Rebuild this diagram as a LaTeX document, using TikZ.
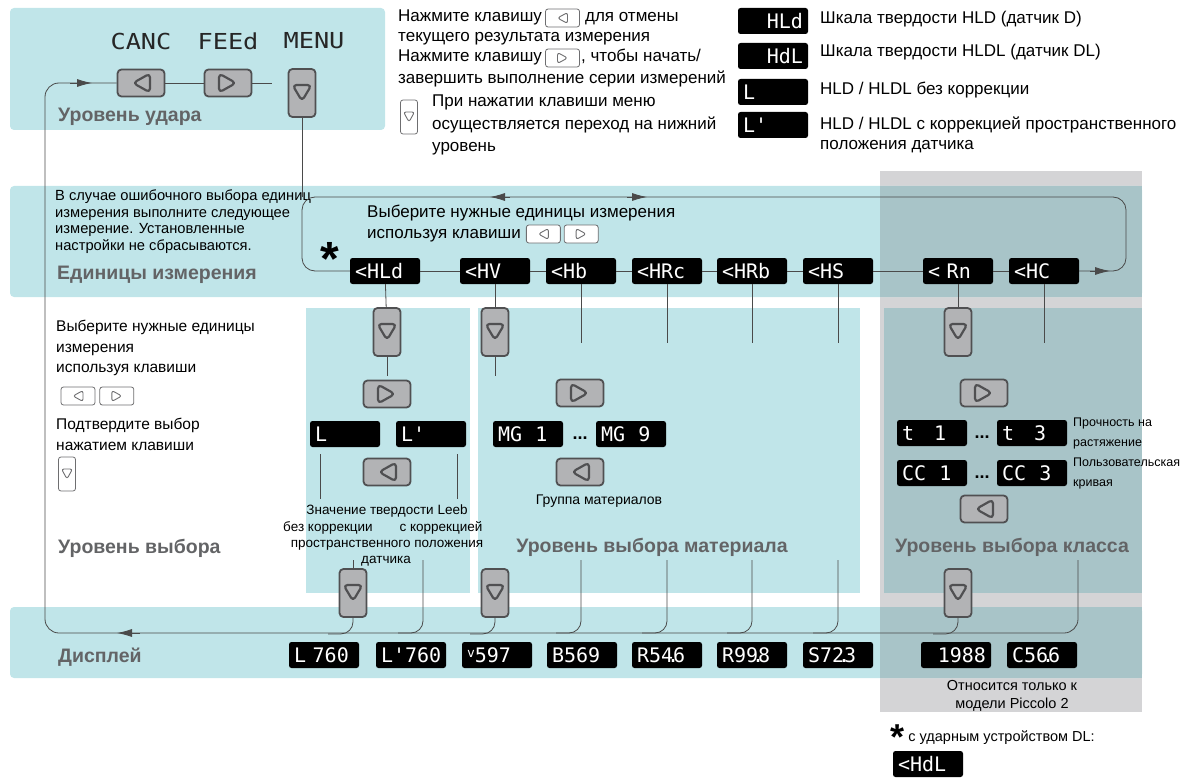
\documentclass[tikz,border=0pt]{standalone}
\usepackage{fontspec}
\setmainfont{Liberation Sans}
\newfontfamily\segfont{DejaVu Sans Mono}
\newfontfamily\segwide[FakeStretch=1.15]{DejaVu Sans Mono}
\usetikzlibrary{positioning,arrows.meta}

\definecolor{bandcyan}{HTML}{C0E5E9}
\definecolor{bandgray}{HTML}{D4D4D6}
\definecolor{banddark}{HTML}{A8C4C8}
\definecolor{lvlgray}{HTML}{636466}
\definecolor{keyfill}{HTML}{B2B3B5}
\definecolor{keyedge}{HTML}{505052}
\definecolor{wirecol}{HTML}{4A4A4A}
\definecolor{iconedge}{HTML}{6E6E70}

\newcommand\segdot{\kern-0.3em.\kern-0.3em}

\tikzset{
  wire/.style={draw=wirecol, line width=0.8pt},
  tip/.style={wire, -{Latex[length=15pt,width=8pt]}},
  lvl/.style={font=\bfseries\fontsize{19.5}{22}\selectfont, text=lvlgray, anchor=west, inner sep=0pt},
  txt/.style={font=\fontsize{17}{21}\selectfont, anchor=west, inner sep=0pt, text height=12pt, text depth=4pt},
  ltxt/.style={font=\fontsize{15.5}{20.5}\selectfont, anchor=north west, inner sep=0pt, align=left},
  stxt/.style={font=\fontsize{13.5}{16}\selectfont, inner sep=0pt},
  ctxt/.style={font=\fontsize{12.5}{20}\selectfont, anchor=west, inner sep=0pt, align=left},
  keyh/.style={draw=keyedge, fill=keyfill, line width=1.8pt, rounded corners=4pt,
    minimum width=47pt, minimum height=27pt, inner sep=0pt},
  keyv/.style={keyh, minimum width=27pt, minimum height=48pt},
  keyL/.style={keyh, path picture={\draw[keyedge, line width=2.2pt, line join=round]
    ([xshift=-8pt]path picture bounding box.center) -- ++(17pt,9.5pt) -- ++(0pt,-19pt) -- cycle;}},
  keyR/.style={keyh, path picture={\draw[keyedge, line width=2.2pt, line join=round]
    ([xshift=8pt]path picture bounding box.center) -- ++(-17pt,9.5pt) -- ++(0pt,-19pt) -- cycle;}},
  keyD/.style={keyv, path picture={\draw[keyedge, line width=2.2pt, line join=round]
    ([yshift=-8pt]path picture bounding box.center) -- ++(-9.5pt,16pt) -- ++(19pt,0pt) -- cycle;}},
  icon/.style={draw=iconedge, fill=white, line width=0.8pt, rounded corners=2.5pt,
    minimum width=34pt, minimum height=18pt, inner sep=0pt},
  iconv/.style={icon, minimum width=17pt, minimum height=34pt},
  iconL/.style={icon, path picture={\draw[iconedge, line width=0.9pt, line join=round]
    ([xshift=-5pt]path picture bounding box.center) -- ++(10pt,5.5pt) -- ++(0pt,-11pt) -- cycle;}},
  iconR/.style={icon, path picture={\draw[iconedge, line width=0.9pt, line join=round]
    ([xshift=5pt]path picture bounding box.center) -- ++(-10pt,5.5pt) -- ++(0pt,-11pt) -- cycle;}},
  iconD/.style={iconv, path picture={\draw[iconedge, line width=0.9pt, line join=round]
    ([yshift=-5pt]path picture bounding box.center) -- ++(-5.5pt,10pt) -- ++(11pt,0pt) -- cycle;}},
  disp/.style={fill=black, rounded corners=2.5pt, text=white,
    font=\segfont\fontsize{20}{20}\selectfont, minimum width=70pt, minimum height=26pt,
    inner sep=0pt, text width=60pt, align=left},
  dispR/.style={disp, align=right},
  segtop/.style={font=\segwide\fontsize{22}{22}\selectfont, text=black!85, inner sep=0pt},
  dots/.style={font=\bfseries\fontsize{18}{18}\selectfont, inner sep=0pt},
  asteriskbig/.style={font=\bfseries\fontsize{48}{48}\selectfont, inner sep=0pt}
}

\begin{document}
\begin{tikzpicture}[x=1pt,y=-1pt]
\useasboundingbox (0,0) rectangle (1196,778);

% bands
\fill[bandgray] (880,171) rectangle (1142,712);
\fill[bandcyan, rounded corners=4pt] (10,8) rectangle (385,130);
\fill[bandcyan, rounded corners=4pt] (10,186) rectangle (1142,297);
\fill[banddark] (880,186) rectangle (1142,297);
\fill[bandcyan] (306,308) rectangle (470,593);
\fill[bandcyan] (478,308) rectangle (860,593);
\fill[banddark] (884,308) rectangle (1142,593);
\fill[bandcyan, rounded corners=4pt] (10,607) rectangle (1142,678);
\fill[banddark] (880,607) rectangle (1142,678);

% level names
\node[lvl] (lvStrike) at (58,117) {Уровень удара};
\node[lvl] (lvUnits) at (57,275) {Единицы измерения};
\node[lvl] (lvSelect) at (58,548) {Уровень выбора};
\node[lvl, anchor=center] (lvMat) at (652,547) {Уровень выбора материала};
\node[lvl, anchor=center] (lvClass) at (1012,547) {Уровень выбора класса};
\node[lvl] (lvDisp) at (58,657) {Дисплей};

% strike level
\node[keyL] (kL) at (141,83) {};
\node[keyR] (kR) at (228,83) {};
\node[keyD] (kD) at (302,93) {};
\node[segtop] (wCanc) at (141,41) {CANC};
\node[segtop] (wFeed) at (228,41) {FEEd};
\node[segtop] (wMenu) at (314,41) {MENU};
\coordinate (kRend) at (272,83);
\draw[wire] (kL) -- (kR);
\draw[wire] (kR) -- (kRend);

% hints
\node[txt] (hintA) at (398,18) {Нажмите клавишу};
\node[iconL, right=3pt of hintA] (hintAkey) {};
\node[txt, right=5pt of hintAkey] (hintAend) {для отмены};
\node[txt] (hintB) at (398,38) {текущего результата измерения};
\node[txt] (hintC) at (398,58) {Нажмите клавишу};
\node[iconR, right=3pt of hintC] (hintCkey) {};
\node[txt, right=1pt of hintCkey] (hintCend) {, чтобы начать/};
\node[txt] (hintD) at (398,80) {завершить выполнение серии измерений};
\node[iconD] (hintEkey) at (409,117) {};
\node[txt] (hintE) at (432,103) {При нажатии клавиши меню};
\node[txt] (hintF) at (432,126) {осуществляется переход на нижний};
\node[txt] (hintG) at (432,148) {уровень};

% legend
\node[dispR] (lgHLd) at (773,21) {HLd};
\node[dispR] (lgHdL) at (773,56) {HdL};
\node[disp] (lgL) at (773,92) {L};
\node[disp] (lgLc) at (773,125) {L'};
\node[txt] (lgHLdT) at (820,20) {Шкала твердости HLD (датчик D)};
\node[txt] (lgHdLT) at (820,53) {Шкала твердости HLDL (датчик DL)};
\node[txt] (lgLT) at (820,91) {HLD / HLDL без коррекции};
\node[txt] (lgLcT) at (820,126) {HLD / HLDL с коррекцией пространственного};
\node[txt] (lgLcT2) at (820,146) {положения датчика};

% units level
\node[ltxt, font=\fontsize{14.7}{16.5}\selectfont] (unitNote) at (55,190)
  {В случае ошибочного выбора единиц\\измерения выполните следующее\\измерение. Установленные\\настройки не сбрасываются.};
\node[txt] (unitPick) at (367,213) {Выберите нужные единицы измерения};
\node[txt] (unitPick2) at (367,234) {используя клавиши};
\node[iconL, right=5pt of unitPick2] (unitKeyL) {};
\node[iconR, right=3pt of unitKeyL] (unitKeyR) {};
\node[asteriskbig] (unitStar) at (330,259) {*};

\node[disp] (uHLd) at (385,271) {<HLd};
\node[disp] (uHV) at (495,271) {<HV};
\node[disp] (uHb) at (581,271) {<Hb};
\node[disp] (uHRc) at (667,271) {<HRc};
\node[disp] (uHRb) at (752,271) {<HRb};
\node[disp] (uHS) at (838,271) {<HS};
\node[disp] (uRn) at (958,271) {<~Rn};
\node[disp] (uHC) at (1044,271) {<HC};
\foreach \a/\b in {uHLd/uHV, uHV/uHb, uHb/uHRc, uHRc/uHRb, uHRb/uHS, uHS/uRn, uRn/uHC}
  \draw[wire] (\a) -- (\b);
\draw[wire, rounded corners=13pt] (uHC.east) -- (1126,271) -- (1126,197) -- (302,197) -- (302,271) -- (uHLd.west);
\draw[wire] (kD) -- (302,197);
\draw[tip] (1090,271) -- (1110,271);
\draw[tip] (510,197) -- (490,197);
\draw[tip] (627,197) -- (647,197);

% left hints
\node[ltxt] (selHint) at (56,320) {Выберите нужные единицы\\измерения\\используя клавиши};
\node[iconL] (selKeyL) at (78,396) {};
\node[iconR, right=4pt of selKeyL] (selKeyR) {};
\node[ltxt] (selHint2) at (56,418) {Подтвердите выбор\\нажатием клавиши};
\node[iconD] (selKeyD) at (67,474) {};

% selection level
\node[keyD] (sD1) at (387,332) {};
\node[keyR] (sR) at (387,394) {};
\node[disp] (sL) at (345,434) {L};
\node[disp] (sLc) at (431,434) {L'};
\node[keyL] (sLk) at (387,472) {};
\node[keyD] (sD2) at (353,593) {};
\draw[wire] (uHLd) -- (sD1);
\draw[wire] (sD1.south) -- ++(0,19);
\draw[wire] ([xshift=-25pt,yshift=-7pt]sL.south) -- ++(0,45);
\draw[wire] ([xshift=26pt,yshift=-7pt]sLc.south) -- ++(0,45);
\node[stxt] (sNote1) at (387,511) {Значение твердости Leeb};
\node[stxt] (sNote2) at (328,528) {без коррекции};
\node[stxt] (sNote3) at (441,528) {с коррекцией};
\node[stxt] (sNote4) at (387,545) {пространственного положения};
\node[stxt] (sNote5) at (386,561) {датчика};
\draw[wire] (sD2.north) -- ++(0,-8);

% material level
\node[keyD] (mD1) at (495,332) {};
\node[keyR] (mR) at (580,393) {};
\node[disp] (mG1) at (528,434) {MG~~1};
\node[dots] (mDots) at (580,438) {...};
\node[disp] (mG9) at (631,434) {MG~~9};
\node[keyL] (mL) at (580,472) {};
\node[stxt, font=\fontsize{14}{16}\selectfont] (mNote) at (599,501) {Группа материалов};
\node[keyD] (mD2) at (495,593) {};
\draw[wire] (uHV) -- (mD1);
\draw[wire] (mD1.south) -- ++(0,19);
\foreach \n in {uHb,uHRc,uHRb,uHS,uHC}
  \draw[wire] (\n.south) -- ++(0,59);

% class level
\node[keyD] (cD1) at (958,332) {};
\node[keyR] (cR) at (984,393) {};
\node[disp] (cT1) at (932,433) {t~~~1};
\node[dots] (cDots1) at (982,437) {...};
\node[disp] (cT3) at (1032,433) {t~~~3};
\node[disp] (cC1) at (932,473) {CC~~1};
\node[dots] (cDots2) at (982,477) {...};
\node[disp] (cC3) at (1032,473) {CC~~3};
\node[keyL] (cL) at (984,509) {};
\node[keyD] (cD2) at (958,593) {};
\node[ctxt] (cNote1) at (1073,433) {Прочность на\\растяжение};
\node[ctxt] (cNote2) at (1073,473) {Пользовательская\\кривая};
\draw[wire] (uRn) -- (cD1);

% display level
\node[disp] (dL) at (324,655) {L~760};
\node[disp] (dLc) at (411,655) {L'760};
\node[disp] (dV) at (497,655) {\raisebox{5pt}{\fontsize{13}{13}\selectfont v}597};
\node[disp] (dB) at (582,655) {B569};
\node[disp] (dR1) at (667,655) {R54\segdot6};
\node[disp] (dR2) at (752,655) {R99\segdot8};
\node[disp] (dS) at (838,655) {S72\segdot3};
\node[dispR] (d1988) at (956,655) {1988};
\node[disp] (dC) at (1042,655) {C56\segdot6};

% return to strike level
\draw[wire, rounded corners=14pt] (1078,560) -- (1078,633) -- (45,633) -- (45,83) -- (kL.west);
\draw[tip] (140,633) -- (117,633);
\draw[tip] (70,83) -- (92,83);
\foreach \k in {sD2, mD2, cD2}
  \draw[wire, rounded corners=12pt] (\k.south) -- ++(0,16) -- ++(-25,0);
\foreach \x in {423, 581, 667, 752, 838}
  \draw[wire, rounded corners=12pt] (\x,560) -- (\x,633) -- (\x-25,633);

% notes
\node[stxt, font=\fontsize{14.5}{18.5}\selectfont, align=center] (onlyNote) at (1012,696)
  {Относится только к\\модели Piccolo 2};
\node[asteriskbig, font=\bfseries\fontsize{36}{36}\selectfont] (noteStar) at (897,737) {*};
\node[txt, font=\fontsize{14.5}{18}\selectfont, right=4pt of noteStar] (noteDL) {с ударным устройством DL:};
\node[disp] (noteHdL) at (928,764) {<HdL};
\end{tikzpicture}
\end{document}
